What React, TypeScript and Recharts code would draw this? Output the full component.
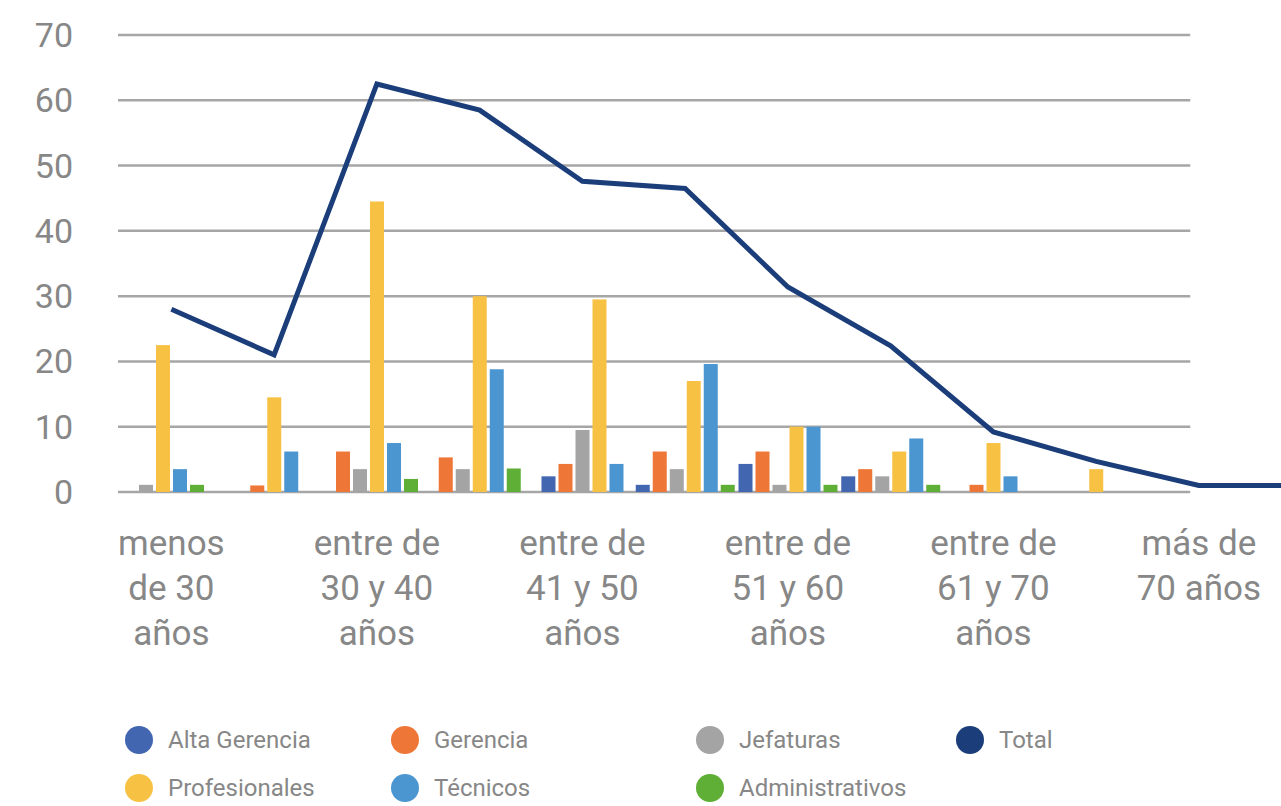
import React from 'react';
import { ComposedChart, Bar, Line, XAxis, YAxis, CartesianGrid, Legend } from 'recharts';

// age bands; unlabeled slots sit between the labelled ones
const categories = [
  'menos\nde 30\naños', '', 'entre de\n30 y 40\naños', '', 'entre de\n41 y 50\naños', '',
  'entre de\n51 y 60\naños', '', 'entre de\n61 y 70\naños', '', 'más de\n70 años', '',
];

const altaGerencia = [0, 0, 0, 0, 2.4, 1.1, 4.3, 2.4, 0, 0, 0, 0];
const gerencia = [0, 1, 6.2, 5.3, 4.3, 6.2, 6.2, 3.5, 1.1, 0, 0, 0];
const jefaturas = [1.1, 0, 3.5, 3.5, 9.5, 3.5, 1.1, 2.4, 0, 0, 0, 0];
const profesionales = [22.5, 14.5, 44.5, 30, 29.5, 17, 10, 6.2, 7.5, 3.5, 0, 0];
const tecnicos = [3.5, 6.2, 7.5, 18.8, 4.3, 19.6, 10, 8.2, 2.4, 0, 0, 0];
const administrativos = [1.1, 0, 2, 3.6, 0, 1.1, 1.1, 1.1, 0, 0, 0, 0];
const total = [28, 21, 62.5, 58.5, 47.6, 46.5, 31.4, 22.4, 9.2, 4.7, 1, 1];

const yTicks = [0, 10, 20, 30, 40, 50, 60, 70];

const series = [
  { key: 'alta', name: 'Alta Gerencia', color: '#4366B0', values: altaGerencia },
  { key: 'gerencia', name: 'Gerencia', color: '#EE7636', values: gerencia },
  { key: 'jefaturas', name: 'Jefaturas', color: '#A4A4A4', values: jefaturas },
  { key: 'profesionales', name: 'Profesionales', color: '#F7C144', values: profesionales },
  { key: 'tecnicos', name: 'Técnicos', color: '#4B96D1', values: tecnicos },
  { key: 'administrativos', name: 'Administrativos', color: '#5FAF36', values: administrativos },
];
const TOTAL_COLOR = '#1B3E7A';
const TEXT = '#878787';
const GRID = '#A6A6A6';
const BAR_GAP = 3;

const data = categories.map((category, i) => {
  const row: any = { category, idx: i, total: total[i] };
  series.forEach((s) => { row[s.key] = s.values[i]; });
  return row;
});

// the source packs the non-empty bars of each group together, centred
const makeShape = (sIdx: number) => (props: any) => {
  const { x, y, width, height, fill, payload } = props;
  const i = payload.idx;
  if (!series[sIdx].values[i] || height <= 0) return <g />;
  const present = series.map((s, k) => (s.values[i] ? k : -1)).filter((k) => k >= 0);
  const rank = present.indexOf(sIdx);
  const n = present.length;
  const pitch = width + BAR_GAP;
  const shift = (rank - (n - 1) / 2 - (sIdx - (series.length - 1) / 2)) * pitch;
  return <rect x={x + shift} y={y} width={width} height={height} fill={fill} />;
};

const AgeTick = ({ x, y, payload }: any) => {
  const lines = String(payload.value).split('\n').filter(Boolean);
  return (
    <text x={x} y={y} textAnchor="middle" fill={TEXT} fontSize={35} fontFamily="Roboto, sans-serif">
      {lines.map((l, k) => (
        <tspan key={k} x={x} dy={k === 0 ? 61 : 45}>{l}</tspan>
      ))}
    </text>
  );
};

const legendRows = [
  [series[0], series[1], series[2], { key: 'total', name: 'Total', color: TOTAL_COLOR }],
  [series[3], series[4], series[5]],
];

const LegendBox = () => (
  <div style={{ height: 84, paddingTop: 4, paddingLeft: 125, boxSizing: 'border-box', fontFamily: 'Roboto, sans-serif' }}>
    {legendRows.map((row, r) => (
      <div key={r} style={{ display: 'grid', gridTemplateColumns: '266px 305px 260px auto', height: 28, marginBottom: 20 }}>
        {row.map((item) => (
          <div key={item.key} style={{ display: 'flex', alignItems: 'center' }}>
            <span style={{ width: 28, height: 28, borderRadius: '50%', background: item.color, display: 'inline-block' }} />
            <span style={{ marginLeft: 15, fontSize: 24, color: TEXT }}>{item.name}</span>
          </div>
        ))}
      </div>
    ))}
  </div>
);

const gridLine = (props: any) => {
  const { x1, x2, y1, key } = props;
  return <line key={key} x1={x1 - 2} x2={x1 + (x2 - x1) * 0.868} y1={y1} y2={y1} stroke={GRID} strokeWidth={2.5} />;
};

export default function App() {
  return (
    <div style={{ position: 'absolute', left: 0, top: 0, width: 1281, height: 806, overflow: 'hidden', background: '#fff' }}>
      <ComposedChart width={1353} height={806} data={data} margin={{ top: 35, right: 0, bottom: 0, left: 0 }} barGap={BAR_GAP}>
        <CartesianGrid vertical={false} horizontal={gridLine} />
        <XAxis dataKey="category" interval={0} tick={<AgeTick />} tickLine={false} axisLine={false} height={230} tickSize={0} />
        <YAxis
          domain={[0, 70]}
          ticks={yTicks}
          width={120}
          tickLine={false}
          axisLine={false}
          tickSize={0}
          tickMargin={47}
          tick={{ fill: TEXT, fontSize: 34, fontFamily: 'Roboto, sans-serif' }}
        />
        <Legend verticalAlign="bottom" align="left" content={<LegendBox />} />
        {series.map((s, k) => (
          <Bar key={s.key} dataKey={s.key} name={s.name} fill={s.color} barSize={14} shape={makeShape(k)} isAnimationActive={false} />
        ))}
        <Line type="linear" dataKey="total" name="Total" stroke={TOTAL_COLOR} strokeWidth={5} dot={false} activeDot={false} isAnimationActive={false} />
      </ComposedChart>
    </div>
  );
}
